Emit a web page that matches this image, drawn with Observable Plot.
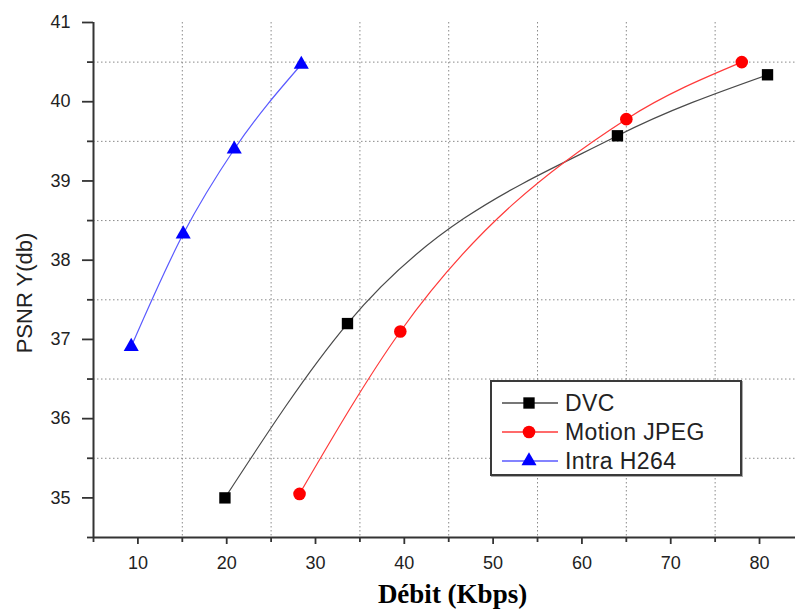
<!DOCTYPE html>
<html><head><meta charset="utf-8">
<script src="https://cdn.jsdelivr.net/npm/d3@7"></script>
<script src="https://cdn.jsdelivr.net/npm/@observablehq/plot@0.6"></script>
<style>
body{margin:0;background:#fff;}
#wrap{position:relative;width:795px;height:613px;overflow:hidden;}
#legend{position:absolute;left:490px;top:380px;width:248px;height:92px;border:2px solid #3a3a3a;background:#fff;box-shadow:1px 1px 0 #aaa;}
#legend svg{display:block;}
</style></head><body><div id="wrap"></div>
<script>
// ---- data ----
const seriesNames = ["DVC", "Motion JPEG", "Intra H264"];
const dvcX = [19.8, 33.6, 64.0, 80.9];
const dvcY = [35.0, 37.2, 39.57, 40.34];
const mjpegX = [28.2, 39.55, 65.0, 78.0];
const mjpegY = [35.05, 37.1, 39.78, 40.5];
const h264X = [9.25, 15.1, 20.85, 28.4];
const h264Y = [36.91, 38.33, 39.4, 40.47];
const xTicks = [10, 20, 30, 40, 50, 60, 70, 80];
const xMinor = [5, 15, 25, 35, 45, 55, 65, 75];
const yTicks = [35, 36, 37, 38, 39, 40, 41];
const yMinor = [34.5, 35.5, 36.5, 37.5, 38.5, 39.5, 40.5];
const xLabel = "Débit (Kbps)";
const yLabel = "PSNR Y(db)";

// ---- styles ----
const styles = [
  {line: "#4a4a4a", fill: "#000", symbol: "square", r: 6.4},
  {line: "#ff3a3a", fill: "#ff0000", symbol: "circle", r: 6.3},
  {line: "#5a5aff", fill: "#0000ff", symbol: "triangle", r: 5.6}
];
const xs = [dvcX, mjpegX, h264X], ys = [dvcY, mjpegY, h264Y];
const series = seriesNames.map((name, i) => ({
  name, style: styles[i],
  data: xs[i].map((x, j) => ({x, y: ys[i][j]}))
}));

const axisColor = "#333";
const textColor = "#222";
const font = "Liberation Sans, Arial, sans-serif";

const marks = [
  Plot.gridX(xMinor.filter(v => v > 5), {stroke: "#8a8a8a", strokeOpacity: 1, strokeWidth: 1, strokeDasharray: "1.5,2.5"}),
  Plot.gridY(yMinor.filter(v => v > 34.5), {stroke: "#8a8a8a", strokeOpacity: 1, strokeWidth: 1, strokeDasharray: "1.5,2.5"}),
  ...series.map(s => Plot.line(s.data, {x: "x", y: "y", curve: "monotone-x", stroke: s.style.line, strokeWidth: 1.2})),
  ...series.map(s => Plot.dot(s.data, {x: "x", y: "y", symbol: () => s.style.symbol, r: s.style.r, fill: s.style.fill, stroke: "none"})),
  Plot.ruleX([5], {y1: 34.5, y2: 41, stroke: axisColor, strokeWidth: 2}),
  Plot.ruleY([34.5], {stroke: axisColor, strokeWidth: 2}),
  Plot.axisX(xTicks, {tickSize: 7, tickPadding: 12, stroke: axisColor, strokeWidth: 1.8, fill: textColor, fontSize: 18, label: null}),
  Plot.axisX(xMinor, {tickSize: 5, tickFormat: () => "", stroke: axisColor, strokeWidth: 1.8, label: null}),
  Plot.axisY(yTicks, {tickSize: 11, tickPadding: 12, tickFormat: d3.format("d"), stroke: axisColor, strokeWidth: 1.8, fill: textColor, fontSize: 18, label: null}),
  Plot.axisY(yMinor, {tickSize: 6, tickFormat: () => "", stroke: axisColor, strokeWidth: 1.8, label: null}),
  Plot.text([xLabel], {frameAnchor: "bottom", dx: 8, dy: 57, lineAnchor: "middle", textAnchor: "middle", fontFamily: "Liberation Serif, Times New Roman, serif", fontWeight: "bold", fontSize: 27, fill: "#000"}),
  Plot.text([yLabel], {frameAnchor: "left", rotate: -90, dx: -69, dy: 13, lineAnchor: "middle", textAnchor: "middle", fontSize: 22, fill: textColor})
];

const chart = Plot.plot({
  width: 795, height: 613,
  marginLeft: 93, marginRight: 0, marginTop: 22, marginBottom: 76,
  style: {fontFamily: font, background: "#fff", color: textColor},
  x: {domain: [5, 84.05], label: null},
  y: {domain: [34.5, 41], label: null},
  marks
});
const wrap = document.getElementById("wrap");
wrap.appendChild(chart);

// ---- legend ----
const leg = document.createElement("div");
leg.id = "legend";
wrap.appendChild(leg);
const svg = d3.select(leg).append("svg").attr("width", 248).attr("height", 92);
const symMap = {square: d3.symbolSquare, circle: d3.symbolCircle, triangle: d3.symbolTriangle};
series.forEach((s, i) => {
  const g = svg.append("g").attr("transform", `translate(0,${21 + i * 29})`);
  g.append("line").attr("x1", 10).attr("x2", 66).attr("stroke", s.style.line).attr("stroke-width", 1.3);
  g.append("path").attr("transform", "translate(37,0)")
    .attr("d", d3.symbol(symMap[s.style.symbol], Math.PI * s.style.r * s.style.r)())
    .attr("fill", s.style.fill);
  g.append("text").attr("x", 73).attr("dy", "0.36em").text(s.name)
    .attr("font-family", font).attr("font-size", 23).attr("letter-spacing", 0.4).attr("fill", textColor);
});
</script>
</body></html>
